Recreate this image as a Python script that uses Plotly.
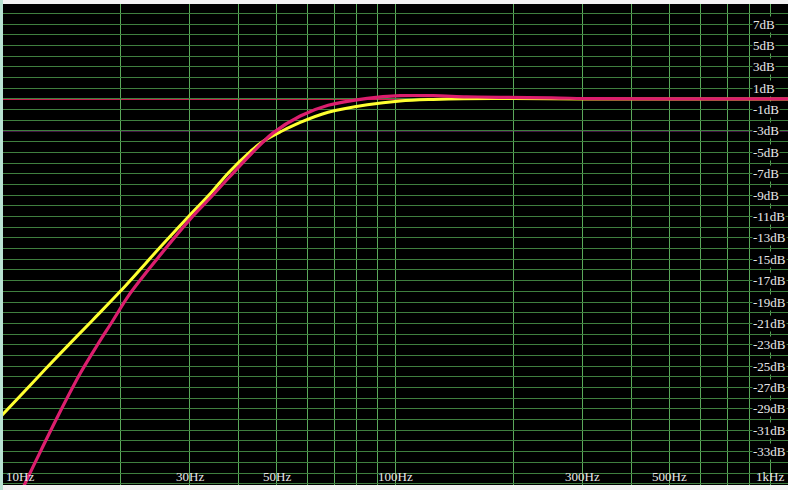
import math
import plotly.graph_objects as go

# ---- data ----
yellow_freq = [10, 12, 14, 17, 20, 25.8, 30, 34, 37.7, 42.9, 46, 51.6, 57.4, 67.6, 85, 103, 125, 150, 200, 300, 500, 1000]
yellow_db = [-29.6, -26.5, -23.9, -20.7, -18.0, -13.5, -10.9, -8.8, -6.9, -4.9, -4.0, -3.0, -2.2, -1.25, -0.55, -0.2, -0.05, 0.02, 0.03, 0.0, 0.0, 0.0]

magenta_freq = [10, 11.37, 12.56, 13.95, 15.86, 17.5, 19.1, 21, 24.9, 30.2, 34, 37.7, 42.9, 48.9, 57.4, 67.6, 85, 103, 125, 152, 184, 250, 320, 500, 1000]
magenta_db = [-40.6, -36.2, -32.9, -29.5, -25.6, -23.0, -20.8, -18.4, -14.9, -11.2, -9.2, -7.4, -5.2, -3.2, -1.6, -0.6, 0.05, 0.3, 0.3, 0.2, 0.15, 0.1, 0.02, 0.0, 0.0]

x_tick_vals = [10, 20, 30, 40, 50, 60, 70, 80, 90, 100, 200, 300, 400, 500, 600, 700, 800, 900, 1000]
x_label_vals = [10, 30, 50, 100, 300, 500, 1000]
x_label_text = ["10Hz", "30Hz", "50Hz", "100Hz", "300Hz", "500Hz", "1kHz"]
y_label_vals = [7, 5, 3, 1, -1, -3, -5, -7, -9, -11, -13, -15, -17, -19, -21, -23, -25, -27, -29, -31, -33]
y_label_text = [f"{v}dB" for v in y_label_vals]
ref_lines = [0, -3]

W, H = 788, 490
ML, MR, MT, MB = 2, 0, 4, 5
FONT = dict(family="Liberation Serif", size=13, color="#e8e8e8")

fig = go.Figure()
fig.add_trace(go.Scatter(x=yellow_freq, y=yellow_db, mode="lines",
                         line=dict(color="#ffff30", width=3, shape="spline"), hoverinfo="skip"))
fig.add_trace(go.Scatter(x=magenta_freq, y=magenta_db, mode="lines",
                         line=dict(color="#dc1e6e", width=3.2, shape="spline"), hoverinfo="skip"))

pw = W - ML - MR
shapes = [
    dict(type="line", xref="paper", yref="y", x0=0, x1=1, y0=ref_lines[0], y1=ref_lines[0],
         line=dict(color="#c8204e", width=2), layer="between"),
    dict(type="line", xref="paper", yref="y", x0=0, x1=1, y0=ref_lines[1], y1=ref_lines[1],
         line=dict(color="#8a2a8a", width=1), layer="between"),
    dict(type="rect", xref="paper", yref="paper", x0=-ML / pw, x1=1.0 / pw, y0=-0.02, y1=1.02,
         fillcolor="#b8e2d2", line=dict(width=0), layer="above"),
]

def text_w(t):
    w = 0
    for c in t:
        w += {"H": 9.4, "z": 5.8, "k": 6.5, "d": 6.5, "B": 8.7, "-": 4.3}.get(c, 6.5)
    return w

annotations = []
for v, t in zip(x_label_vals, x_label_text):
    w = text_w(t)
    if v == 10:
        xa, xs, p0, p1 = "left", 3, 3, 3 + w
    elif v == 1000:
        xa, xs, p0, p1 = "right", -3, -3 - w, -3
    else:
        xa, xs, p0, p1 = "center", 0, -w / 2, w / 2
    shapes.append(dict(type="rect", xref="x", yref="paper", xsizemode="pixel", ysizemode="pixel",
                       xanchor=math.log10(v), yanchor=0, x0=p0, x1=p1, y0=0, y1=14,
                       fillcolor="black", line=dict(width=0), layer="between"))
    annotations.append(dict(x=math.log10(v), y=0, xref="x", yref="paper",
                            text=t, showarrow=False, xanchor=xa, yanchor="bottom",
                            xshift=xs, yshift=0, font=FONT, borderpad=0))
for v, t in zip(y_label_vals, y_label_text):
    annotations.append(dict(x=(752 - ML) / pw, y=v, xref="paper", yref="y",
                            text=t, showarrow=False, xanchor="left", yanchor="middle",
                            bgcolor="black", font=FONT, borderpad=0))

fig.update_layout(
    width=W, height=H,
    margin=dict(l=ML, r=MR, t=MT, b=MB, pad=0),
    paper_bgcolor="#f2f2f2", plot_bgcolor="black",
    showlegend=False,
    shapes=shapes, annotations=annotations,
    xaxis=dict(type="log", range=[1, 3], tickvals=x_tick_vals, showticklabels=False,
               showgrid=True, gridcolor="#5aa85a", gridwidth=1, zeroline=False,
               ticks="", showline=False, fixedrange=True),
    yaxis=dict(range=[-36.12, 8.88], dtick=1, tick0=0, showticklabels=False,
               showgrid=True, gridcolor="#3f7f3f", gridwidth=1, zeroline=False,
               ticks="", showline=False, fixedrange=True),
)

fig.write_html("out.html", config={"displayModeBar": False},
               post_script="document.body.style.margin='0';document.body.style.overflow='hidden';")
